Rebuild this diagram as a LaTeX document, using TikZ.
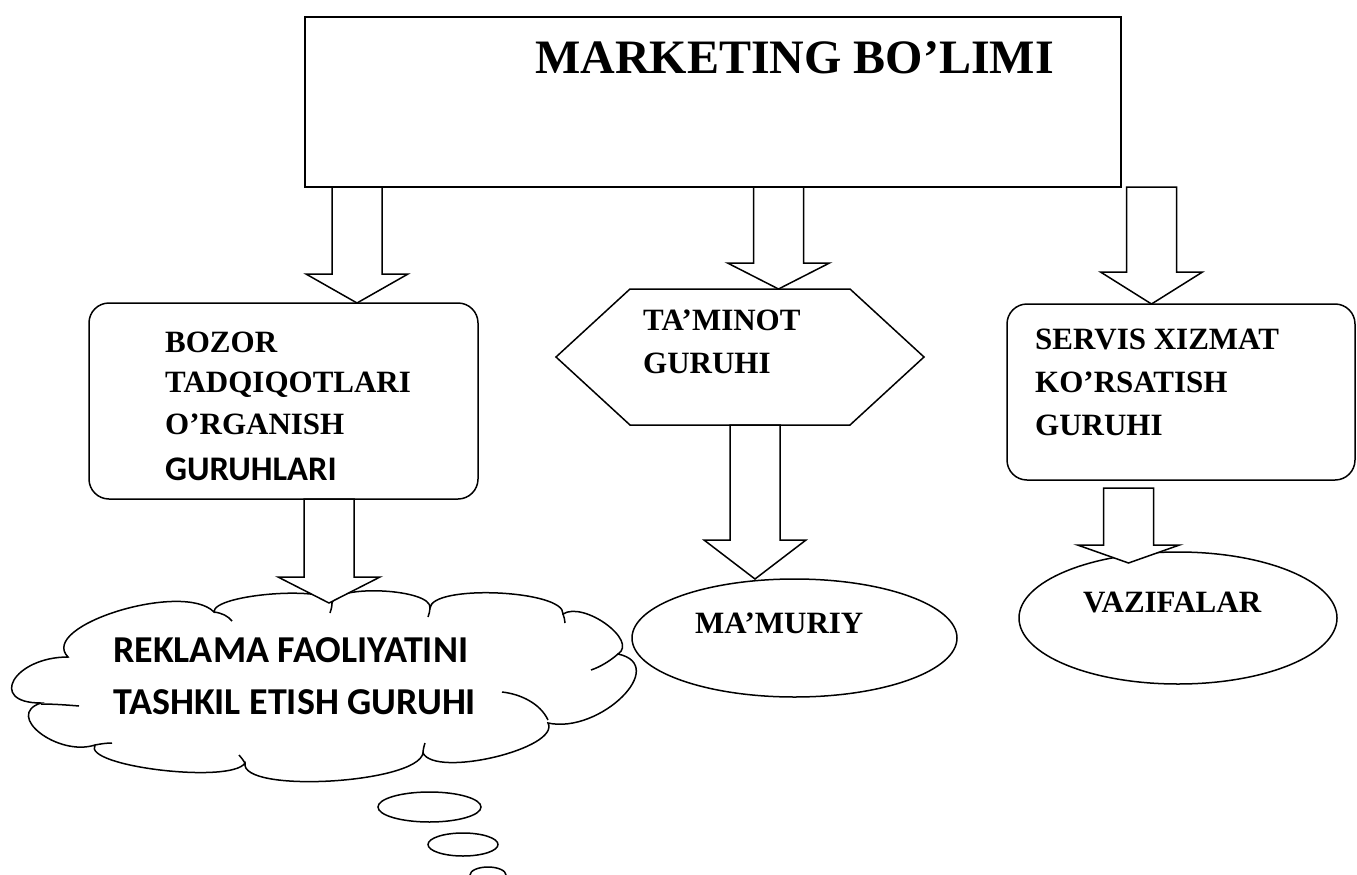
\documentclass[tikz,border=0pt]{standalone}
\usepackage{fontspec}
\setmainfont{Liberation Serif}
\newfontfamily\calfont{Carlito}
\usetikzlibrary{calc,shapes.geometric}

% wide block arrow: start of shaft, tip, head length
\newcommand\blockarrow[3]{%
  \filldraw[barrow] let \p1=(#1), \p2=(#2) in
    (\x1-25pt,\y1) -- (\x1-25pt,\y2+#3pt) -- (\x1-51pt,\y2+#3pt) -- (\x1,\y2)
    -- (\x1+51pt,\y2+#3pt) -- (\x1+25pt,\y2+#3pt) -- (\x1+25pt,\y1) -- cycle;}

\begin{document}
\begin{tikzpicture}[x=1pt,y=-1pt,
  shapeline/.style={draw=black,line width=1.5pt,fill=white,inner sep=0pt},
  barrow/.style={draw=black,line width=1.5pt,fill=white,line join=miter},
  hook/.style={draw=black,line width=1.5pt},
  titletext/.style={font=\fontsize{48}{48}\selectfont\bfseries,inner sep=0pt,anchor=base west},
  serifbold/.style={font=\fontsize{31}{31}\selectfont\bfseries,inner sep=0pt,anchor=base west},
  sansbold/.style={font=\calfont\fontsize{34.5}{34.5}\selectfont\bfseries,inner sep=0pt,anchor=base west},
  cloudtext/.style={font=\calfont\fontsize{38}{38}\selectfont\bfseries,inner sep=0pt,anchor=base west}]
\useasboundingbox (0,0) rectangle (1357,875);

% main boxes
\node[shapeline,rectangle,minimum width=816pt,minimum height=170pt] (mkt) at (713,102) {};
\node[shapeline,rectangle,rounded corners=20pt,minimum width=389pt,minimum height=196pt] (bozor) at (283.5,401) {};
\node[shapeline,rectangle,rounded corners=20pt,minimum width=348pt,minimum height=176pt] (servis) at (1181,392) {};
\draw[shapeline] (556,357) -- (630,289) -- (850,289) -- (924,357) -- (850,425) -- (630,425) -- cycle;
\node[inner sep=0pt] (taminot) at (740,357) {};
\node[shapeline,ellipse,minimum width=325pt,minimum height=118pt] (mamur) at (794.5,638) {};
\node[shapeline,ellipse,minimum width=318pt,minimum height=132pt] (vazif) at (1178,618) {};

% cloud outline
\draw[shapeline] (68,657)
  .. controls (37.3,625.7) and (183.3,580.7) .. (214,612)
  .. controls (212.7,594) and (330.7,585) .. (332,603)
  .. controls (334.7,583.7) and (432.7,588.7) .. (430,608)
  .. controls (432,584) and (565,590) .. (563,614)
  .. controls (583.7,600.7) and (638.7,640.7) .. (618,654)
  .. controls (670,665.3) and (600,734.3) .. (548,723)
  .. controls (560.7,748.3) and (435.7,778.3) .. (423,753)
  .. controls (417.7,783.7) and (239.7,793.7) .. (245,763)
  .. controls (231.7,784.3) and (81.7,766.3) .. (95,745)
  .. controls (57.7,757) and (3.7,715) .. (41,703)
  .. controls (-13,703) and (14,657) .. (68,657) -- cycle;
\node[inner sep=0pt] (cloud) at (320,685) {};
% inner arcs of the cloud
\draw[hook] (214,612) .. controls (222,613) and (228,616) .. (232,621);
\draw[hook] (332,603) .. controls (332,607) and (331,610) .. (330,613);
\draw[hook] (430,608) .. controls (430,611) and (429,614) .. (428,617);
\draw[hook] (563,614) .. controls (564,617) and (565,620) .. (565,623);
\draw[hook] (618,654) .. controls (610,661) and (600,667) .. (591,670);
\draw[hook] (502,692) .. controls (520,694) and (540,703) .. (548,720);
\draw[hook] (423,753) .. controls (423,750) and (424,746) .. (425,743);
\draw[hook] (245,763) .. controls (243,760) and (241,757) .. (239,755);
\draw[hook] (95,745) .. controls (100,744) and (106,743) .. (112,743);
\draw[hook] (41,704) .. controls (54,704) and (67,705) .. (79,706);

% thought bubbles
\node[shapeline,ellipse,minimum width=103pt,minimum height=30pt] (bub1) at (429.5,807) {};
\node[shapeline,ellipse,minimum width=70pt,minimum height=23pt] (bub2) at (463,844.5) {};
\node[shapeline,ellipse,minimum width=36pt,minimum height=16pt] (bub3) at (488,875) {};

% block arrows between the boxes
\coordinate (a1s) at (357,187);    \coordinate (a1t) at (357,303);
\coordinate (a2s) at (778.5,187);  \coordinate (a2t) at (778.5,289);
\coordinate (a3s) at (1151.5,187); \coordinate (a3t) at (1151.5,304);
\coordinate (a4s) at (329,499);    \coordinate (a4t) at (329,603);
\coordinate (a5s) at (755,425);    \coordinate (a5t) at (755,579);
\coordinate (a6s) at (1128.5,488); \coordinate (a6t) at (1128.5,563);
\blockarrow{a1s}{a1t}{29}
\blockarrow{a2s}{a2t}{26}
\blockarrow{a3s}{a3t}{32}
\blockarrow{a4s}{a4t}{26}
\blockarrow{a5s}{a5t}{39}
\blockarrow{a6s}{a6t}{18}

% labels
\node[titletext] (ttl) at (535,74) {MARKETING BO’LIMI};
\node[serifbold] (bz1) at (165,352) {BOZOR};
\node[serifbold] (bz2) at (165,392) {TADQIQOTLARI};
\node[serifbold] (bz3) at (165,434) {O’RGANISH};
\node[sansbold]  (bz4) at (165,480) {GURUHLARI};
\node[serifbold] (tm1) at (643,330) {TA’MINOT};
\node[serifbold] (tm2) at (643,373) {GURUHI};
\node[serifbold] (sv1) at (1035,349) {SERVIS XIZMAT};
\node[serifbold] (sv2) at (1035,392) {KO’RSATISH};
\node[serifbold] (sv3) at (1035,435) {GURUHI};
\node[serifbold] (mm) at (695,633) {MA’MURIY};
\node[serifbold] (vz) at (1083,612) {VAZIFALAR};
\node[cloudtext] (rk1) at (113,662) {REKLAMA FAOLIYATINI};
\node[cloudtext] (rk2) at (113,714) {TASHKIL ETISH GURUHI};
\end{tikzpicture}
\end{document}
